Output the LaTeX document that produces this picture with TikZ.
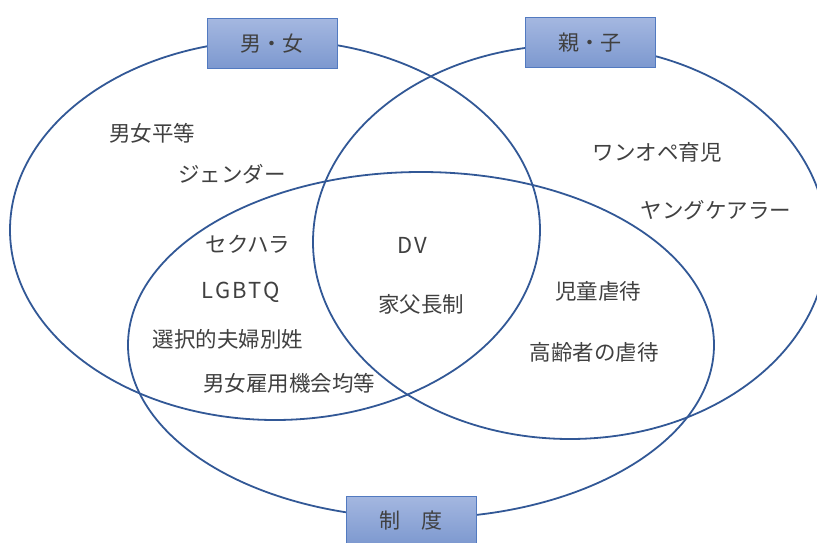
\documentclass[tikz,border=0pt]{standalone}
\usepackage{fontspec}
\setmainfont{Noto Sans CJK JP}
\definecolor{ringblue}{RGB}{50,88,150}
\definecolor{boxtop}{RGB}{164,183,224}
\definecolor{boxbot}{RGB}{124,152,207}
\definecolor{boxedge}{RGB}{82,122,192}
\definecolor{txt}{RGB}{64,64,64}
\begin{document}
\begin{tikzpicture}[x=1pt,y=-1pt,
  ring/.style={draw=ringblue,line width=1.8pt},
  tag/.style={draw=boxedge,line width=1pt,top color=boxtop,bottom color=boxbot,
    minimum width=130pt,minimum height=50pt,inner sep=0pt,text=txt,
    font=\fontsize{21}{25}\selectfont},
  word/.style={text=txt,inner sep=0pt,font=\fontsize{21.5}{25}\selectfont},
  latin/.style={word,font=\fontsize{22}{25}\selectfont\addfontfeature{LetterSpace=10}}]
\useasboundingbox (0,0) rectangle (817,543);
\draw[ring] (275,230) ellipse [x radius=265, y radius=190];
\draw[ring] (570,242) ellipse [x radius=257, y radius=197];
\draw[ring] (421,345) ellipse [x radius=293, y radius=173];
\node[tag] (mf) at (272,44) {男・女};
\node[tag] (pc) at (590,43) {親・子};
\node[tag] (sys) at (411,521) {制　度};
\node[word] (w1) at (152,133) {男女平等};
\node[word] (w2) at (232,174) {ジェンダー};
\node[word] (w3) at (248,244) {セクハラ};
\node[latin] (w4) at (241,292) {LGBTQ};
\node[word] (w5) at (228,339) {選択的夫婦別姓};
\node[word] (w6) at (289,383) {男女雇用機会均等};
\node[latin] (w7) at (412,245) {DV};
\node[word] (w8) at (421,304) {家父長制};
\node[word] (w9) at (598,291) {児童虐待};
\node[word] (w10) at (594,352) {高齢者の虐待};
\node[word] (w11) at (657,152) {ワンオペ育児};
\node[word] (w12) at (716,210) {ヤングケアラー};
\end{tikzpicture}
\end{document}
